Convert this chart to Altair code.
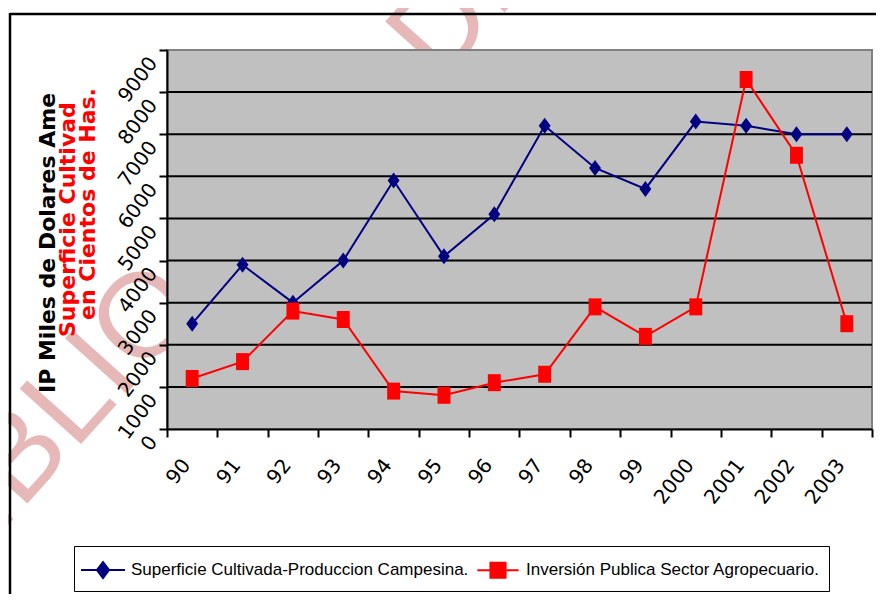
import altair as alt
import pandas as pd

# ---- data ----
years = ["90", "91", "92", "93", "94", "95", "96", "97", "98", "99",
         "2000", "2001", "2002", "2003"]
superficie = [2500, 3900, 3000, 4000, 5900, 4100, 5100, 7200, 6200, 5700,
              7300, 7200, 7000, 7000]
inversion = [1200, 1600, 2800, 2600, 900, 800, 1100, 1300, 2900, 2200,
             2900, 8300, 6500, 2500]
series_names = ["Superficie Cultivada-Produccion Campesina.",
                "Inversión Publica Sector Agropecuario."]
series_colors = ["#000080", "#FF0000"]
y_ticks = [0, 1000, 2000, 3000, 4000, 5000, 6000, 7000, 8000, 9000]
grid_values = [1000, 2000, 3000, 4000, 5000, 6000, 7000, 8000]
title_black = ["IP Miles de Dolares Ame"]
title_red_1 = ["Superficie Cultivad"]
title_red_2 = ["en Cientos de Has."]
watermark_1 = ["BIBLIO"]
watermark_2 = ["DE"]

W, H = 705, 379

series_data = [superficie, inversion]
frames = []
for name, vals in zip(series_names, series_data):
    frames.append(pd.DataFrame({"year": years, "serie": name, "value": vals}))
df = pd.concat(frames, ignore_index=True)
grid_df = pd.DataFrame({"value": grid_values})
one = pd.DataFrame({"a": [0]})

marker_paths = ["M0,-0.94L0.7,0L0,0.94L-0.7,0Z", "M-0.76,-1H0.76V1H-0.76Z"]
legend_paths = ["M-1.6,0H1.6M0,-0.58L0.44,0L0,0.58L-0.44,0Z",
                "M-1.5,0H1.5M-0.55,-0.55H0.55V0.55H-0.55Z"]

x_axis = alt.Axis(title=None, tickBand="extent", labelAngle=308, labelAlign="right",
                  labelBaseline="top", labelFont="DejaVu Sans", labelFontSize=20,
                  labelColor="black", labelPadding=18, labelOffset=-14,
                  tickSize=8, tickWidth=2, tickColor="black", zindex=1,
                  domainColor="black", domainWidth=2, grid=False, labelOverlap=False)
y_axis = alt.Axis(title=None, values=y_ticks, format="d", grid=False, labelAngle=307,
                  labelAlign="right", labelBaseline="top", labelFont="DejaVu Sans",
                  labelFontSize=20, labelColor="black", labelPadding=14, labelOffset=3,
                  labelOverlap=False, tickSize=8, tickWidth=2, tickColor="black",
                  zindex=1, domainColor="black", domainWidth=2)

x_scale = alt.Scale(type="band", domain=years, paddingInner=0, paddingOuter=0)
y_scale = alt.Scale(domain=[0, 9000], nice=False)

x_enc = alt.X("year:N", scale=x_scale, axis=x_axis, bandPosition=0.5)
y_enc = alt.Y("value:Q", scale=y_scale, axis=y_axis)

sel = lambda a, b: {"expr": f"datum.index === 0 ? '{a}' : '{b}'"}
legend = alt.Legend(
    title=None, orient="none", legendX=-93, legendY=496, direction="horizontal",
    symbolType=sel(*legend_paths),
    symbolStrokeColor=sel(*series_colors),
    symbolFillColor=sel(*series_colors),
    symbolSize=756, symbolStrokeWidth=2, symbolOpacity=1, symbolOffset=5,
    labelFont="Liberation Sans", labelFontSize=17, labelColor="black",
    labelOffset=13, columnPadding=4, labelLimit=0,
    fillColor="white", strokeColor="black", padding=9, cornerRadius=0,
)
color_enc = alt.Color("serie:N", scale=alt.Scale(domain=series_names, range=series_colors),
                      legend=legend)

def wm_text(txt, x, y):
    return alt.Chart(pd.DataFrame({"t": txt})).mark_text(
        angle=312, align="left", baseline="alphabetic", font="Liberation Sans",
        fontSize=120, color="#E6B8B8").encode(
        x=alt.value(x), y=alt.value(y), text="t:N")

wm1 = wm_text(watermark_1, -222, 545)
wm2 = wm_text(watermark_2, 273, 34)

plot_bg = alt.Chart(one).mark_rect(fill="#C0C0C0", stroke="#808080", strokeWidth=2).encode(
    x=alt.value(0), x2=alt.value(W), y=alt.value(0), y2=alt.value(H))

grid = alt.Chart(grid_df).mark_rule(color="black", strokeWidth=2).encode(
    y=alt.Y("value:Q", scale=y_scale, axis=y_axis))

lines = alt.Chart(df).mark_line(strokeWidth=2).encode(
    x=x_enc, y=y_enc, color=color_enc, detail="serie:N")

point_layers = []
for name, path, col in zip(series_names, marker_paths, series_colors):
    point_layers.append(
        alt.Chart(df).transform_filter(alt.datum.serie == name)
        .mark_point(shape=path, filled=True, fill=col, color=col, opacity=1, size=289)
        .encode(x=x_enc, y=y_enc)
    )

def vtitle(txt, color, x, y):
    return alt.Chart(pd.DataFrame({"t": txt})).mark_text(
        angle=270, align="left", baseline="middle", font="DejaVu Sans",
        fontWeight="bold", fontSize=22, color=color).encode(
        x=alt.value(x), y=alt.value(y), text="t:N")

t_black = vtitle(title_black, "black", -119, 343)
t_red1 = vtitle(title_red_1, "#FF0000", -99, 287)
t_red2 = vtitle(title_red_2, "#FF0000", -79, 270)

frame_top = alt.Chart(one).mark_rule(color="black", strokeWidth=2.5).encode(
    x=alt.value(-157), x2=alt.value(W + 40), y=alt.value(-36))
frame_left = alt.Chart(one).mark_rule(color="black", strokeWidth=2.5).encode(
    x=alt.value(-157), y=alt.value(-37), y2=alt.value(H + 200))

chart = alt.layer(wm1, wm2, plot_bg, grid, lines, *point_layers, t_black, t_red1, t_red2,
                  frame_top, frame_left).properties(
    width=W, height=H,
    autosize=alt.AutoSizeParams(type="none"),
    padding={"left": 159, "top": 42, "right": 4, "bottom": 165},
    background="white",
).configure_view(fill="white", stroke="transparent", strokeWidth=0)

chart.save("out.html", embed_options={"renderer": "svg", "actions": False})
